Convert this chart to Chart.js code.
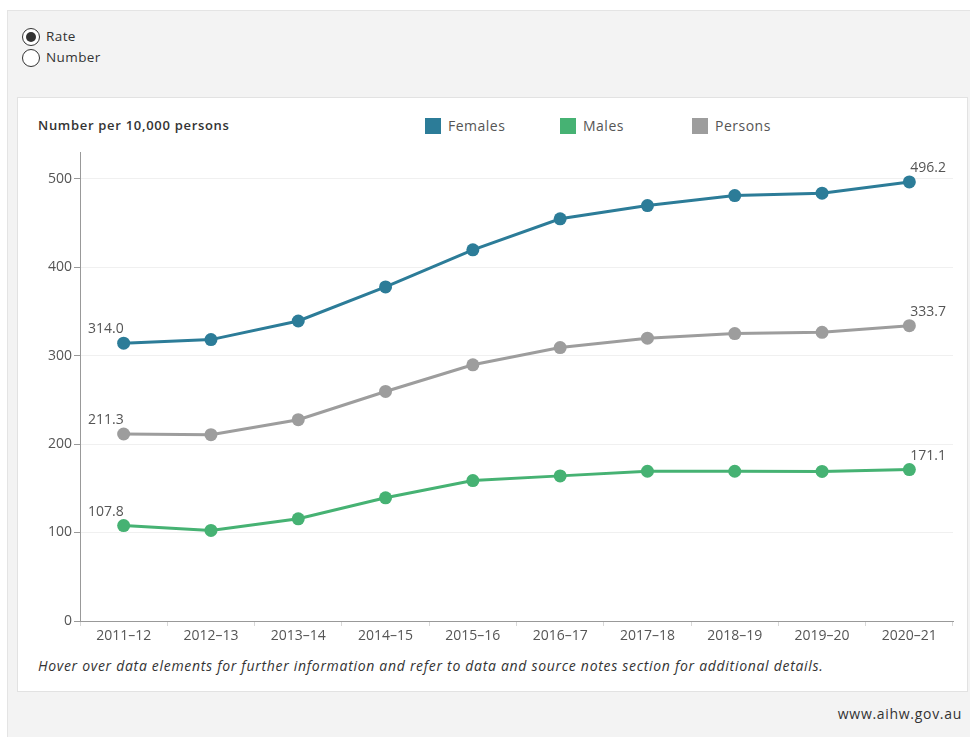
<!DOCTYPE html>
<html>
<head>
<meta charset="utf-8">
<script src="https://cdn.jsdelivr.net/npm/chart.js@4"></script>
<style>
  body { margin: 0; width: 970px; height: 737px; background: #fff; font-family: "Open Sans", sans-serif; position: relative; overflow: hidden; }
  #outer { position: absolute; left: 7px; top: 10px; width: 963px; height: 727px; background: #f3f3f3; border-top: 1px solid #e4e4e4; border-left: 1px solid #e4e4e4; }
  .radio { position: absolute; left: 22px; width: 18px; height: 18px; border: 1px solid #333; border-radius: 50%; background: #fff; box-sizing: border-box; }
  .radio.on::after { content: ""; position: absolute; left: 3px; top: 3px; width: 10px; height: 10px; border-radius: 50%; background: #333; }
  .rlabel { position: absolute; left: 46px; font-size: 13.5px; letter-spacing: 0.4px; color: #333; }
  #card { position: absolute; left: 17px; top: 97px; width: 951px; height: 595px; background: #fff; border: 1px solid #e2e2e2; box-sizing: border-box; }
  #title { position: absolute; left: 38px; top: 116px; font-size: 13px; font-weight: 600; letter-spacing: 0.7px; color: #333; }
  .leg { position: absolute; top: 116px; font-size: 14px; letter-spacing: 0.5px; color: #555; }
  .leg span { display: inline-block; width: 16px; height: 16px; vertical-align: -3px; margin-right: 7px; }
  #wrap { position: absolute; left: 17px; top: 97px; width: 951px; height: 555px; }
  #note { position: absolute; left: 38px; top: 656px; font-size: 14px; font-style: italic; letter-spacing: 0.7px; color: #333; }
  #site { position: absolute; right: 8px; top: 704px; font-size: 14px; letter-spacing: 0.7px; color: #333; }
</style>
</head>
<body>
<div id="outer"></div>
<div class="radio on" style="top:28px"></div><div class="rlabel" style="top:27px">Rate</div>
<div class="radio" style="top:49px"></div><div class="rlabel" style="top:48px">Number</div>
<div id="card"></div>
<div id="title">Number per 10,000 persons</div>
<div class="leg" style="left:425px"><span style="background:#2c7c98"></span>Females</div>
<div class="leg" style="left:560px"><span style="background:#46b273"></span>Males</div>
<div class="leg" style="left:692px"><span style="background:#9d9d9d"></span>Persons</div>
<div id="wrap"><canvas id="chart"></canvas></div>
<div id="note">Hover over data elements for further information and refer to data and source notes section for additional details.</div>
<div id="site">www.aihw.gov.au</div>
<script>
let years = ["2011–12", "2012–13", "2013–14", "2014–15", "2015–16", "2016–17", "2017–18", "2018–19", "2019–20", "2020–21"];
let females = [314.0, 318.0, 339.0, 377.5, 419.5, 454.5, 469.5, 480.8, 483.5, 496.2];
let males = [107.8, 102.4, 115.5, 139.2, 158.7, 164.0, 169.2, 169.2, 169.0, 171.1];
let persons = [211.3, 210.6, 227.5, 259.4, 289.5, 309.0, 319.6, 324.8, 326.2, 333.7];
let yTicks = [0, 100, 200, 300, 400, 500];

// first/last value labels
let endLabels = {
    id: "endLabels",
    afterDatasetsDraw(chart) {
        let ctx = chart.ctx;
        ctx.save();
        ctx.font = "14px 'Open Sans'";
        ctx.fillStyle = "#555";
        ctx.textBaseline = "bottom";
        chart.data.datasets.forEach((ds, i) => {
            let pts = chart.getDatasetMeta(i).data;
            let first = pts[0], last = pts[pts.length - 1];
            ctx.textAlign = "right";
            ctx.fillText(ds.data[0].toFixed(1), first.x, first.y - 7);
            ctx.textAlign = "left";
            ctx.fillText(ds.data[ds.data.length - 1].toFixed(1), last.x + 1, last.y - 7);
        });
        ctx.restore();
    }
};

function ds(label, data, color) {
    return { label: label, data: data, borderColor: color, backgroundColor: color,
        borderWidth: 3, pointRadius: 6.5, pointHoverRadius: 6.5, pointBorderWidth: 0, tension: 0 };
}

new Chart(document.getElementById("chart"), {
    type: "line",
    data: {
        labels: years,
        datasets: [ds("Females", females, "#2c7c98"), ds("Persons", persons, "#9d9d9d"), ds("Males", males, "#46b273")]
    },
    options: {
        responsive: true,
        maintainAspectRatio: false,
        animation: false,
        layout: { padding: { top: 55, right: 15, bottom: 1, left: 0 } },
        plugins: { legend: { display: false }, tooltip: { enabled: false } },
        scales: {
            x: {
                offset: true,
                grid: { offset: true, drawOnChartArea: false, tickLength: 5, tickColor: "#d8d8d8" },
                border: { color: "#999", width: 1 },
                ticks: { font: { family: "Open Sans", size: 14 }, color: "#555", maxRotation: 0, padding: 2 },
                afterFit: s => { s.height = 30; }
            },
            y: {
                min: 0, max: 530,
                afterBuildTicks: s => { s.ticks = yTicks.map(v => ({ value: v })); },
                grid: { color: "#f0f0f0", tickLength: 6, tickColor: "#999" },
                border: { color: "#999", width: 1 },
                ticks: { font: { family: "Open Sans", size: 14 }, color: "#555", padding: 2 },
                afterFit: s => { s.width = 63; }
            }
        }
    },
    plugins: [endLabels]
});
</script>
</body>
</html>
